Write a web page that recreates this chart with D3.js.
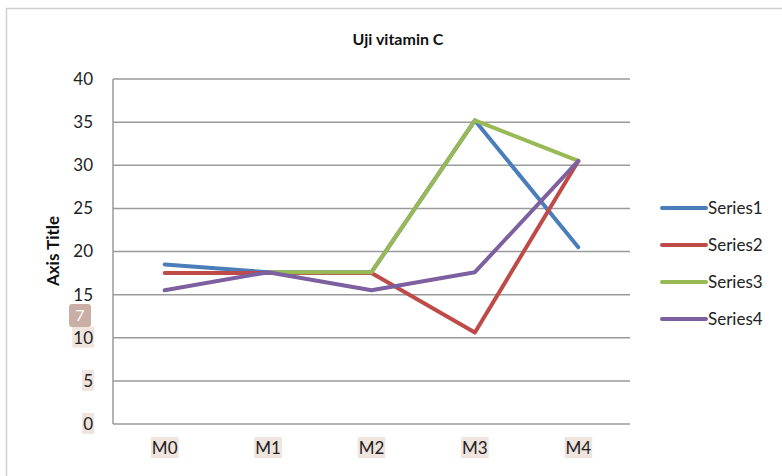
<!DOCTYPE html>
<html><head><meta charset="utf-8">
<script src="https://cdn.jsdelivr.net/npm/d3@7"></script>
<style>body{margin:0;background:#fff}text{font-family:Lato,"Open Sans",sans-serif}</style>
</head><body><svg id="c" width="782" height="476"></svg>
<script>
const categories = ["M0","M1","M2","M3","M4"];
const seriesNames = ["Series1","Series2","Series3","Series4"];
const series1 = [18.5, 17.6, 17.6, 35.2, 20.5];
const series2 = [17.5, 17.5, 17.5, 10.6, 30.5];
const series3 = [null, 17.6, 17.6, 35.2, 30.5];
const series4 = [15.5, 17.6, 15.5, 17.6, 30.5];
const yTicks = [0,5,10,15,20,25,30,35,40];
const colors = ["#4a7ebb","#be4b48","#98b954","#7d60a0"];
const allSeries = [series1, series2, series3, series4];

const svg = d3.select("#c");
svg.append("rect").attr("x",6.5).attr("y",8.5).attr("width",800).attr("height",500)
  .attr("fill","#fff").attr("stroke","#d0d0d0").attr("stroke-width",1.5);

const L=113, R=630, T=79, B=424;
const x = d3.scaleBand().domain(categories).range([L,R]);
const y = d3.scaleLinear().domain([0,40]).range([B,T]);

svg.append("g").selectAll("line").data(yTicks).join("line")
  .attr("x1",L).attr("x2",R).attr("y1",d=>y(d)).attr("y2",d=>y(d))
  .attr("stroke","#9a9a9a").attr("stroke-width",1.5);
svg.append("line").attr("x1",L).attr("x2",L).attr("y1",T).attr("y2",B)
  .attr("stroke","#9a9a9a").attr("stroke-width",1.5);

const yAxis = svg.append("g").attr("transform",`translate(${L},0)`)
  .call(d3.axisLeft(y).tickValues(yTicks).tickSize(0).tickPadding(20));
yAxis.select(".domain").remove();
yAxis.selectAll("text").attr("font-size",17).attr("fill","#222").attr("font-family","Lato,sans-serif");

const xAxis = svg.append("g").attr("transform",`translate(0,${B})`)
  .call(d3.axisBottom(x).tickSize(0).tickPadding(18));
xAxis.select(".domain").remove();
xAxis.selectAll("text").attr("font-size",17).attr("fill","#222").attr("font-family","Lato,sans-serif");

function highlight(sel){
  sel.each(function(){
    const bb=this.getBBox();
    const g=d3.select(this.parentNode);
    g.insert("rect","text").attr("x",bb.x-1).attr("y",bb.y).attr("width",bb.width+2).attr("height",bb.height)
      .attr("fill","#efe4de");
  });
}
highlight(yAxis.selectAll(".tick text").filter(d=>d<=10));
highlight(xAxis.selectAll(".tick text"));

svg.append("rect").attr("x",69).attr("y",304).attr("width",22).attr("height",23).attr("rx",3)
  .attr("fill","#c8aea4");
svg.append("text").attr("x",80).attr("y",321).attr("text-anchor","middle").attr("font-size",16)
  .attr("fill","#fff").text("7");

svg.append("text").attr("x",398).attr("y",45).attr("text-anchor","middle")
  .attr("font-size",16).attr("font-weight","bold").attr("fill","#111").text("Uji vitamin C");
svg.append("text").attr("transform","translate(59,251) rotate(-90)").attr("text-anchor","middle")
  .attr("font-size",17).attr("font-weight","bold").attr("fill","#111").text("Axis Title");

const line = d3.line().defined(d=>d!=null)
  .x((d,i)=>x(categories[i])+x.bandwidth()/2).y(d=>y(d));
svg.append("g").selectAll("path").data(allSeries).join("path")
  .attr("d",d=>line(d)).attr("fill","none")
  .attr("stroke",(d,i)=>colors[i]).attr("stroke-width",4)
  .attr("stroke-linejoin","round").attr("stroke-linecap","round");

const lg = svg.append("g").selectAll("g").data(seriesNames).join("g")
  .attr("transform",(d,i)=>`translate(662,${208+i*37})`);
lg.append("line").attr("x1",0).attr("x2",44).attr("stroke",(d,i)=>colors[i])
  .attr("stroke-width",4).attr("stroke-linecap","round");
lg.append("text").attr("x",46).attr("y",6).attr("font-size",17).attr("fill","#222").text(d=>d);
</script></body></html>
